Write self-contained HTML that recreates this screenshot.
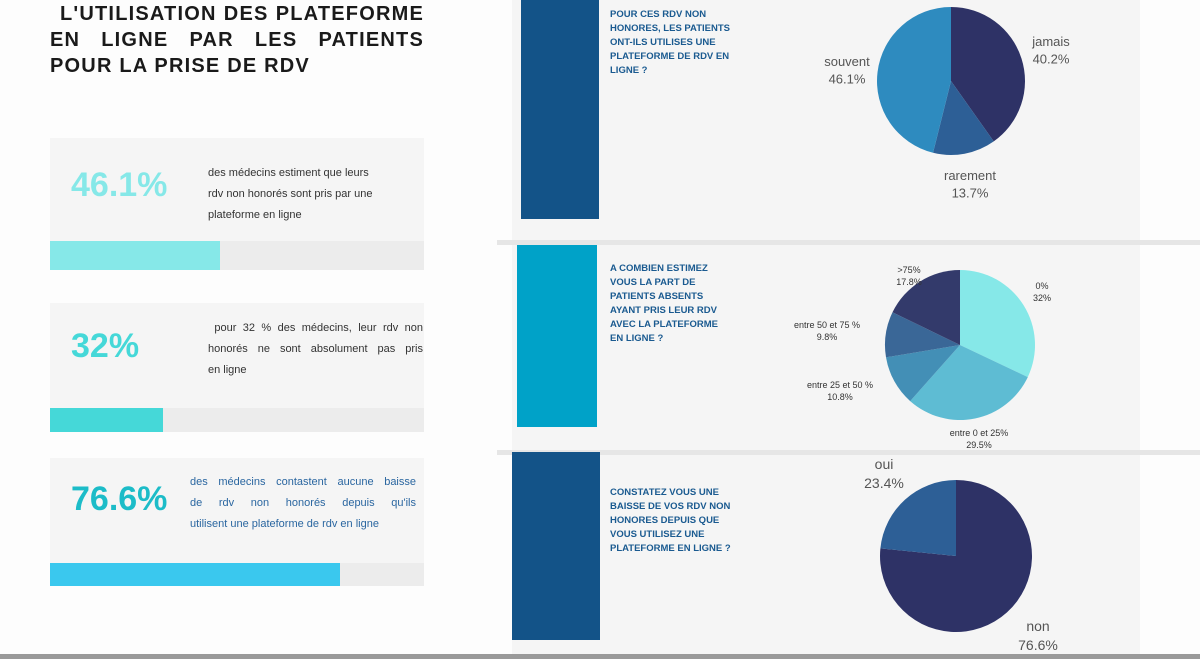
<!DOCTYPE html>
<html><head><meta charset="utf-8">
<style>
body{margin:0;width:1200px;height:659px;background:#fdfdfd;position:relative;overflow:hidden;font-family:"Liberation Sans",sans-serif}
.abs{position:absolute}
.title{left:50px;width:374px;font-weight:bold;font-size:20px;line-height:26px;letter-spacing:1.2px;color:#1a1a1a;white-space:nowrap}
.jl{text-align:justify;text-align-last:justify;white-space:normal}
.card{background:#f5f5f5;left:50px;width:374px}
.big{font-weight:bold;font-size:34px}
.desc{font-size:11px;line-height:21px;color:#333}
.line{text-align:justify;text-align-last:justify;white-space:nowrap}
.track{background:#ececec;left:50px;width:374px}
.q{left:610px;font-weight:bold;font-size:9.5px;line-height:14px;color:#1a5a90;white-space:nowrap}
svg text{font-family:"Liberation Sans",sans-serif}
</style></head><body>
<div>
<div class="abs title jl" style="top:1px;padding-left:10px;width:364px">L'UTILISATION DES PLATEFORME</div>
<div class="abs title jl" style="top:27px">EN LIGNE PAR LES PATIENTS</div>
<div class="abs title" style="top:53px">POUR LA PRISE DE RDV</div>
</div>

<div class="abs card" style="top:138px;height:103px"></div>
<div class="abs big" style="left:71px;top:166px;color:#86e8e8">46.1%</div>
<div class="abs desc" style="left:208px;top:163px;width:200px">des médecins estiment que leurs<br>rdv non honorés sont pris par une<br>plateforme en ligne</div>
<div class="abs track" style="top:241px;height:29px"><div style="width:170px;height:100%;background:#86e8e8"></div></div>

<div class="abs card" style="top:303px;height:105px"></div>
<div class="abs big" style="left:71px;top:327px;color:#45d8d8">32%</div>
<div class="abs desc" style="left:208px;top:318px;width:215px"><div class="line">&nbsp;pour 32 % des médecins, leur rdv non</div><div class="line">honorés ne sont absolument pas pris</div><div>en ligne</div></div>
<div class="abs track" style="top:408px;height:24px"><div style="width:113px;height:100%;background:#45d8d8"></div></div>

<div class="abs card" style="top:458px;height:105px"></div>
<div class="abs big" style="left:71px;top:480px;color:#1cbcc8">76.6%</div>
<div class="abs desc" style="left:190px;top:472px;width:226px;color:#2a66a0"><div class="line">des médecins contastent aucune baisse</div><div class="line">de rdv non honorés depuis qu'ils</div><div>utilisent une plateforme de rdv en ligne</div></div>
<div class="abs track" style="top:563px;height:23px"><div style="width:290px;height:100%;background:#3ac8ee"></div></div>

<div class="abs" style="left:512px;top:0;width:628px;height:240px;background:#f5f5f5"></div>
<div class="abs" style="left:497px;top:240px;width:703px;height:5px;background:#e6e6e6"></div>
<div class="abs" style="left:512px;top:245px;width:628px;height:205px;background:#f5f5f5"></div>
<div class="abs" style="left:497px;top:450px;width:703px;height:5px;background:#e6e6e6"></div>
<div class="abs" style="left:512px;top:455px;width:628px;height:200px;background:#f5f5f5"></div>

<div class="abs" style="left:521px;top:0;width:78px;height:219px;background:#135388"></div>
<div class="abs" style="left:517px;top:245px;width:80px;height:182px;background:#00a2c8"></div>
<div class="abs" style="left:512px;top:452px;width:88px;height:188px;background:#135388"></div>

<div class="abs q" style="top:8px">POUR CES RDV NON<br>HONORES, LES PATIENTS<br>ONT-ILS UTILISES UNE<br>PLATEFORME DE RDV EN<br>LIGNE ?</div>
<div class="abs q" style="top:262px">A COMBIEN ESTIMEZ<br>VOUS LA PART DE<br>PATIENTS ABSENTS<br>AYANT PRIS LEUR RDV<br>AVEC LA PLATEFORME<br>EN LIGNE ?</div>
<div class="abs q" style="top:486px">CONSTATEZ VOUS UNE<br>BAISSE DE VOS RDV NON<br>HONORES DEPUIS QUE<br>VOUS UTILISEZ UNE<br>PLATEFORME EN LIGNE ?</div>

<div class="abs" style="left:0;top:654px;width:1200px;height:5px;background:#9a9a9a"></div>

<svg id="charts" class="abs" style="left:0;top:0" width="1200" height="659"></svg>
<script>
const pie1Labels=["jamais","rarement","souvent"];
const pie1Values=[40.2,13.7,46.1];
const pie2Labels=["0%","entre 0 et 25%","entre 25 et 50 %","entre 50 et 75 %",">75%"];
const pie2Values=[32,29.5,10.8,9.8,17.8];
const pie3Labels=["non","oui"];
const pie3Values=[76.6,23.4];
const NS="http://www.w3.org/2000/svg";
const svg=document.getElementById('charts');
function drawPie(cx,cy,r,labels,values,colors,labelPos,fs,lcol,name){
  const tot=values.reduce((a,b)=>a+b,0);let a0=0;
  values.forEach((v,i)=>{
    const a1=a0+v/tot*2*Math.PI;
    const x0=cx+r*Math.sin(a0),y0=cy-r*Math.cos(a0),x1=cx+r*Math.sin(a1),y1=cy-r*Math.cos(a1);
    const p=document.createElementNS(NS,'path');
    p.setAttribute('d',`M${cx},${cy}L${x0},${y0}A${r},${r} 0 ${a1-a0>Math.PI?1:0} 1 ${x1},${y1}Z`);
    p.setAttribute('fill',colors[i]);
    
    
    svg.appendChild(p);
    const t=document.createElementNS(NS,'text');
    t.setAttribute('x',labelPos[i][0]);t.setAttribute('y',labelPos[i][1]);
    t.setAttribute('text-anchor','middle');t.setAttribute('font-size',fs);t.setAttribute('fill',lcol);
    
    
    const s1=document.createElementNS(NS,'tspan');s1.setAttribute('x',labelPos[i][0]);s1.textContent=labels[i];
    const s2=document.createElementNS(NS,'tspan');s2.setAttribute('x',labelPos[i][0]);s2.setAttribute('dy',fs*1.35);s2.textContent=(+v.toFixed(1))+'%';
    t.appendChild(s1);t.appendChild(s2);svg.appendChild(t);
    a0=a1;
  });
}
drawPie(951,81,74,pie1Labels,pie1Values,["#2e3266","#2d5f96","#2e8bbf"],[[1051,46],[970,180],[847,66]],13,"#555",'pie1');
drawPie(960,345,75,pie2Labels,pie2Values,["#86e8e8","#5ebcd3","#438fb6","#3a6797","#333a6b"],[[1042,289],[979,436],[840,388],[827,328],[909,273]],9,"#333",'pie2');
drawPie(956,556,76,pie3Labels,pie3Values,["#2e3266","#2d5f96"],[[1038,631],[884,469]],14,"#555",'pie3');
</script>
</body></html>
